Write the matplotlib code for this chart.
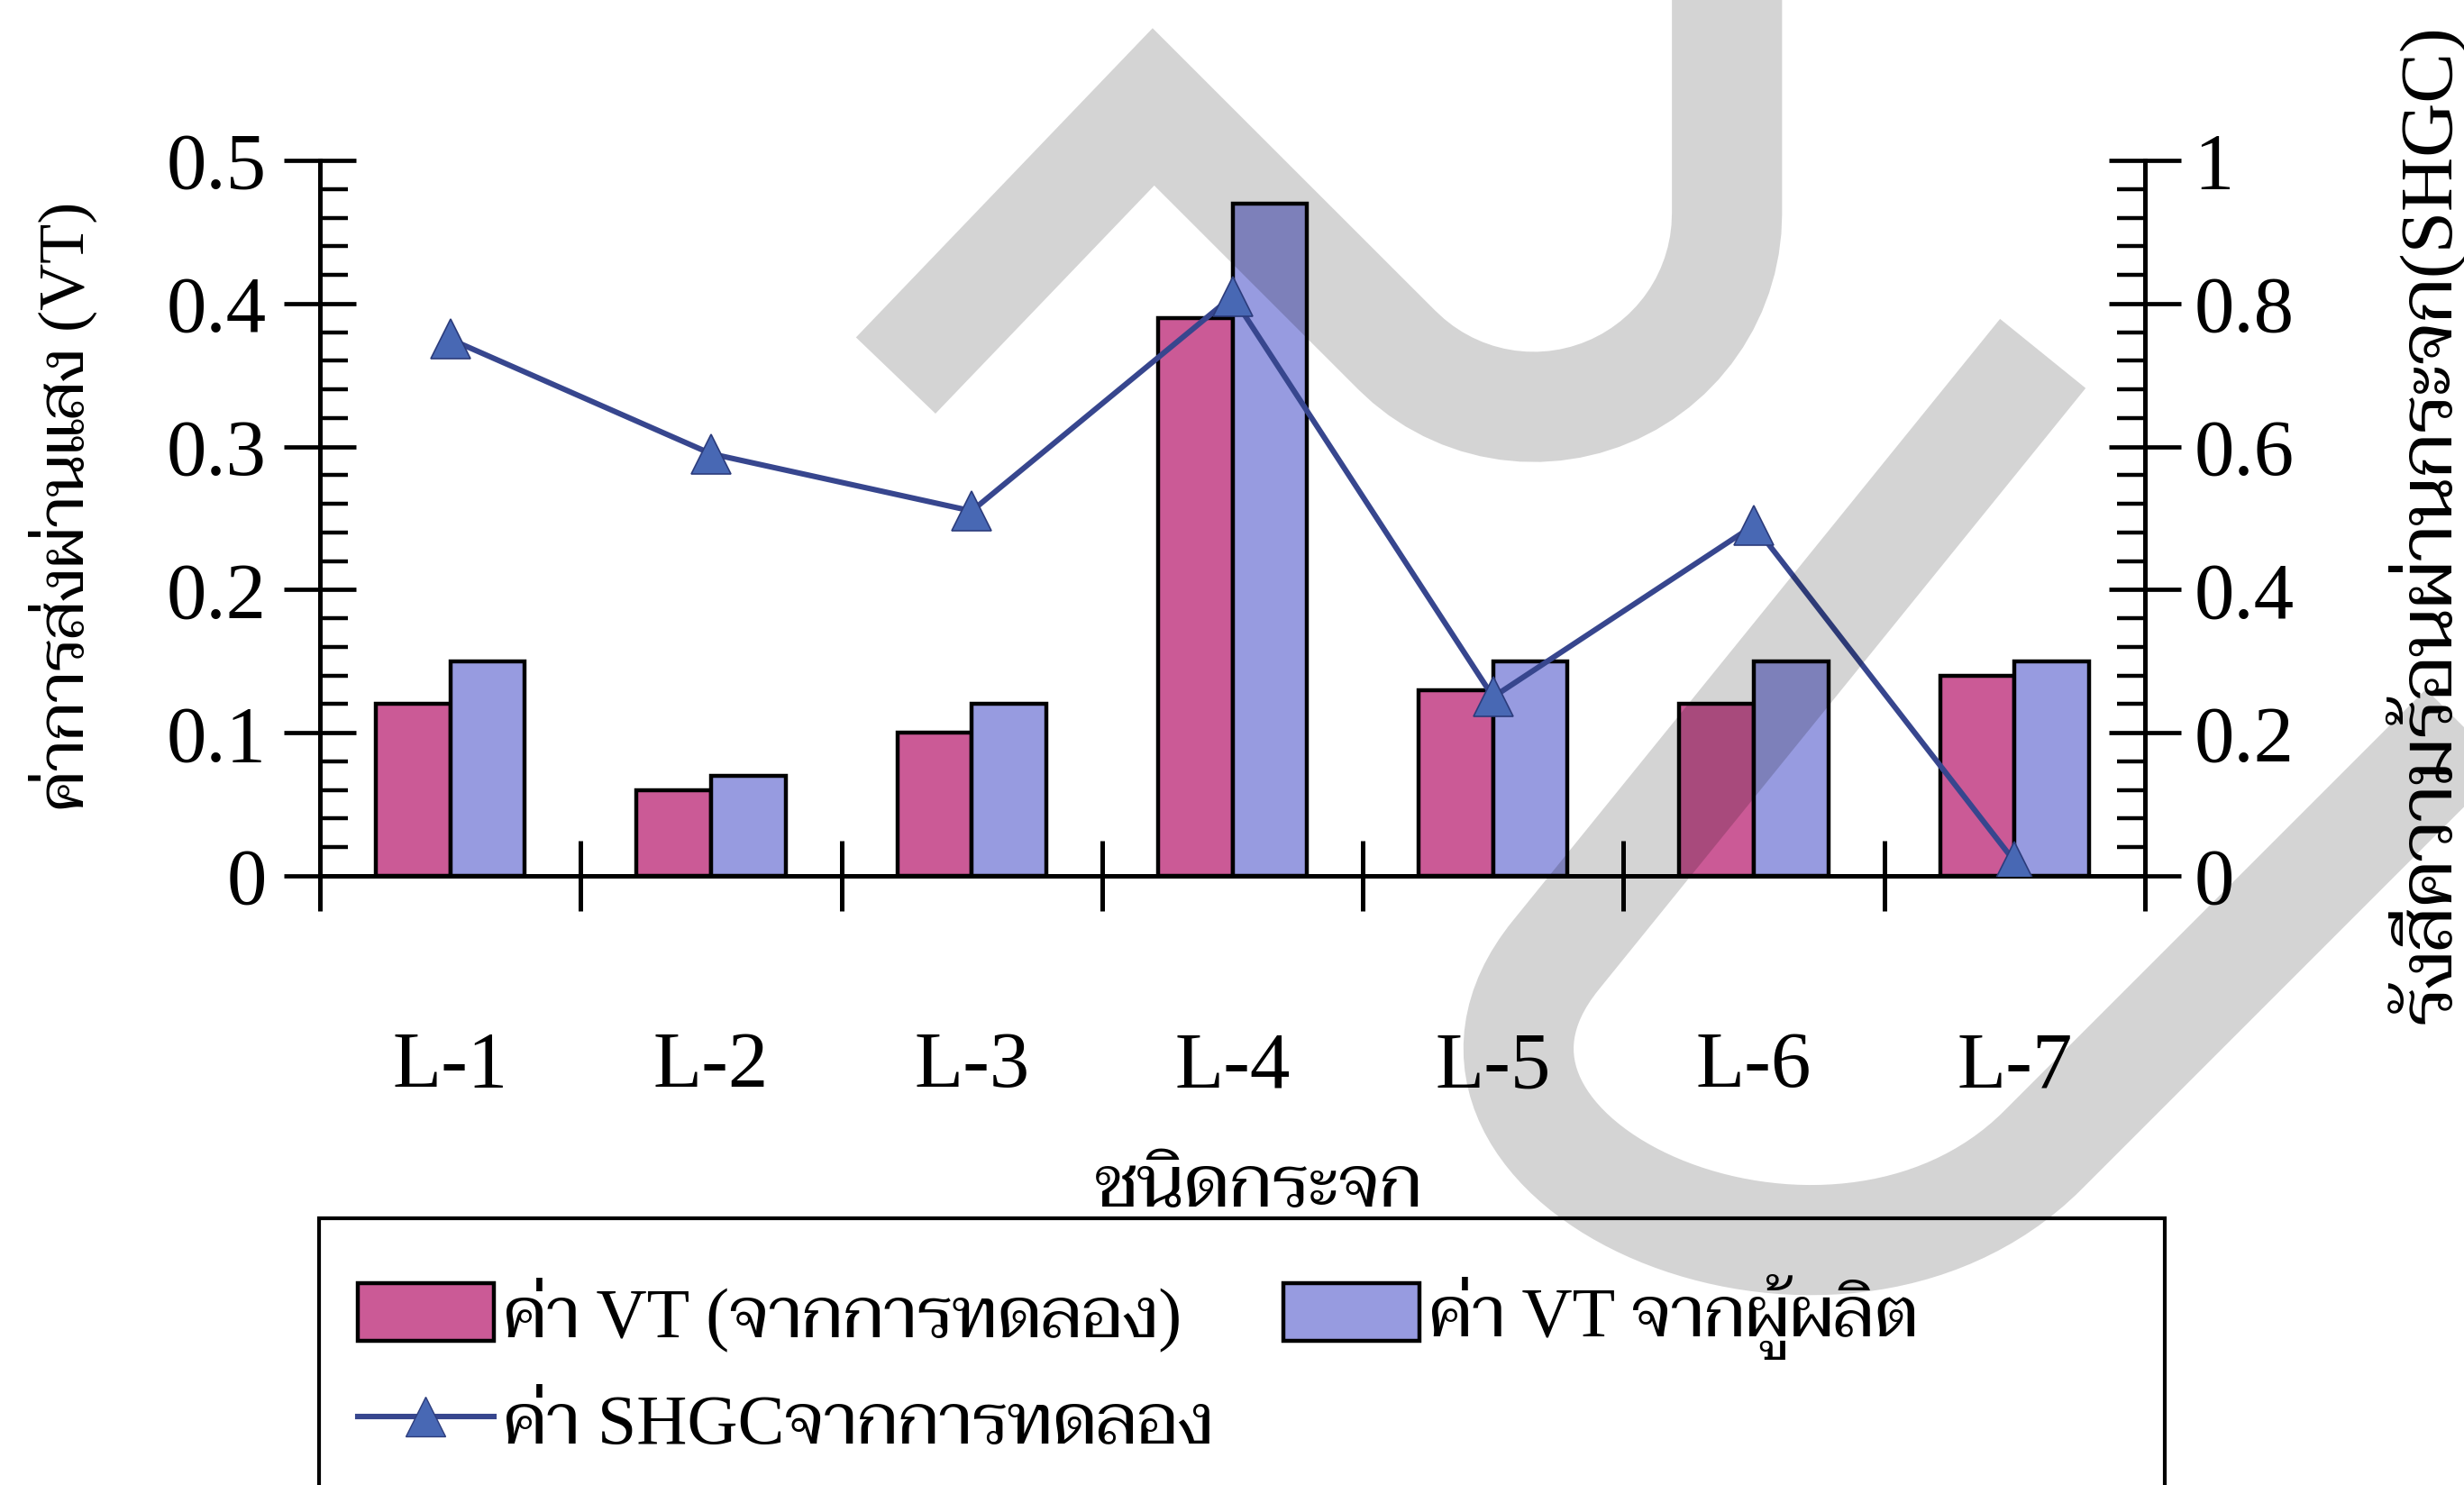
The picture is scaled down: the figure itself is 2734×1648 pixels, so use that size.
import numpy as np
import matplotlib
matplotlib.use("Agg")
import matplotlib.pyplot as plt
from matplotlib import font_manager
from matplotlib.patches import Patch, Rectangle, PathPatch
from matplotlib.lines import Line2D
from matplotlib.path import Path
from matplotlib.ticker import FixedLocator, FixedFormatter, MultipleLocator, NullFormatter

# ---- data -------------------------------------------------------------
categories = ["L-1", "L-2", "L-3", "L-4", "L-5", "L-6", "L-7"]
vt_experiment = [0.12, 0.06, 0.10, 0.39, 0.13, 0.12, 0.14]
vt_manufacturer = [0.15, 0.07, 0.12, 0.47, 0.15, 0.15, 0.15]
shgc_experiment = [0.75, 0.59, 0.51, 0.81, 0.25, 0.49, 0.02]

vt_ticks = [0, 0.1, 0.2, 0.3, 0.4, 0.5]
vt_tick_labels = ["0", "0.1", "0.2", "0.3", "0.4", "0.5"]
shgc_ticks = [0, 0.2, 0.4, 0.6, 0.8, 1.0]
shgc_tick_labels = ["0", "0.2", "0.4", "0.6", "0.8", "1"]

label_vt_exp = "ค่า VT (จากการทดลอง)"
label_vt_mfr = "ค่า VT จากผู้ผลิต"
label_shgc = "ค่า SHGCจากการทดลอง"
ylabel_left = "ค่าการส่งผ่านแสง (VT)"
ylabel_right = "รังสีความร้อนผ่านกระจก(SHGC)"
xlabel = "ชนิดกระจก"

# Latin glyphs from a Times-like serif, Thai glyphs from a looped serif Thai face
available = {f.name for f in font_manager.fontManager.ttflist}
thai_choices = ["Taviraj", "Trirong", "Pridi", "Maitree", "FreeSerif"]
thai_font = next((f for f in thai_choices if f in available), "FreeSerif")
FAMILY = ["Liberation Serif", thai_font, "FreeSerif", "DejaVu Sans"]
plt.rcParams["font.family"] = FAMILY

W, H = 2734, 1648
fig = plt.figure(figsize=(W / 100, H / 100), dpi=100)

# plot area in pixels: left/right axes and zero/top lines
x0, x1, ytop, ybot = 355, 2380, 178, 972
ax = fig.add_axes([x0 / W, 1 - ybot / H, (x1 - x0) / W, (ybot - ytop) / H])
ax2 = ax.twinx()

pink = "#CB5A96"
lavender = "#979BE0"
navy = "#37468E"
tri_face = "#4868B4"

n = len(categories)
x = np.arange(n)
bw = 1 / 3.5
ax.bar(x - bw / 2, vt_experiment, bw, color=pink, edgecolor="black", linewidth=3.2, zorder=2)
ax.bar(x + bw / 2, vt_manufacturer, bw, color=lavender, edgecolor="black", linewidth=3.2, zorder=2)
ax2.plot(x, shgc_experiment, color=navy, lw=4.4, marker="^", markersize=32,
         markerfacecolor=tri_face, markeredgecolor="#2C3C7C", markeredgewidth=1.2, zorder=3)

ax.set_xlim(-0.5, n - 0.5)
ax.set_ylim(0, 0.5)
ax2.set_ylim(0, 1)

for a in (ax, ax2):
    a.spines["top"].set_visible(False)
    for s in ("left", "right", "bottom"):
        a.spines[s].set_linewidth(3.6)
        a.spines[s].set_color("black")
ax.spines["right"].set_visible(False)
ax2.spines["left"].set_visible(False)
ax2.spines["bottom"].set_visible(False)

tick_size = 64
# category axis: boundary ticks crossing the line, labels at the centres
ax.xaxis.set_major_locator(FixedLocator(np.arange(-0.5, n, 1)))
ax.xaxis.set_major_formatter(NullFormatter())
ax.xaxis.set_minor_locator(FixedLocator(x))
ax.xaxis.set_minor_formatter(FixedFormatter(categories))
ax.tick_params(axis="x", which="major", direction="inout", length=56, width=3.6)
ax.tick_params(axis="x", which="minor", length=0, pad=124, labelsize=tick_size)

# left value axis
ax.yaxis.set_major_locator(FixedLocator(vt_ticks))
ax.yaxis.set_major_formatter(FixedFormatter(vt_tick_labels))
ax.yaxis.set_minor_locator(MultipleLocator(0.02))
ax.tick_params(axis="y", which="major", direction="inout", length=57, width=3.4,
               pad=14, labelsize=tick_size)
ax.tick_params(axis="y", which="minor", direction="in", length=22, width=3.2)

# right value axis
ax2.yaxis.set_major_locator(FixedLocator(shgc_ticks))
ax2.yaxis.set_major_formatter(FixedFormatter(shgc_tick_labels))
ax2.yaxis.set_minor_locator(MultipleLocator(0.04))
ax2.tick_params(axis="y", which="major", direction="inout", length=58, width=3.4,
                pad=10, labelsize=tick_size)
ax2.tick_params(axis="y", which="minor", direction="in", length=22, width=3.2)

for lab in ax.get_xticklabels(minor=True) + ax.get_yticklabels() + ax2.get_yticklabels():
    lab.set_family(FAMILY)

# axis titles
fig.text(70 / W, 1 - 562 / H, ylabel_left, rotation=90, ha="center", va="center",
         fontsize=52, family=FAMILY)
fig.text(2690 / W, 1 - 582 / H, ylabel_right, rotation=90, ha="center", va="center",
         fontsize=60, family=FAMILY)
fig.text(1397 / W, 1 - 1320 / H, xlabel, ha="center", va="center", fontsize=58, family=FAMILY)

# legend with its frame running off the lower edge
handles = [
    Patch(facecolor=pink, edgecolor="black", linewidth=3.2),
    Line2D([], [], color=navy, lw=4.4, marker="^", markersize=32,
           markerfacecolor=tri_face, markeredgecolor="#2C3C7C"),
    Patch(facecolor=lavender, edgecolor="black", linewidth=3.2),
]
labels = [label_vt_exp, label_shgc, label_vt_mfr]
leg_fs = 56
fig.legend(handles, labels, ncol=2, loc="upper left",
           bbox_to_anchor=(397 / W, 1 - 1414 / H), frameon=False,
           prop={"family": FAMILY, "size": leg_fs},
           handlelength=1.94, handleheight=0.9, handletextpad=0.13,
           columnspacing=1.0, borderpad=0, borderaxespad=0, labelspacing=0.55)
fig.add_artist(Rectangle((354 / W, 1 - 1700 / H), (2402 - 354) / W, (1700 - 1352) / H,
                         transform=fig.transFigure, fill=False, edgecolor="black",
                         linewidth=3.0, zorder=5))

# translucent grey "TU" emblem laid over the chart
S = W / 1568


def emblem_path(verts, codes):
    pts = [(vx * S / W, 1 - vy * S / H) for vx, vy in verts]
    return Path(pts, codes)


arc_theta = np.radians(np.linspace(135, 0, 30))
arc_pts = [(976 + 123 * np.cos(t), 136 + 123 * np.sin(t)) for t in arc_theta]
verts_a = [(570, 239), (734, 68)] + arc_pts + [(1099, -60)]
codes_a = [Path.MOVETO] + [Path.LINETO] * (len(verts_a) - 1)
verts_b = [(1300, 225), (990, 608), (883, 740), (1166, 866), (1300, 732), (1700, 332)]
codes_b = [Path.MOVETO, Path.LINETO, Path.CURVE4, Path.CURVE4, Path.CURVE4, Path.LINETO]
for v, c in ((verts_a, codes_a), (verts_b, codes_b)):
    patch = PathPatch(emblem_path(v, c), fill=False, edgecolor=(0, 0, 0, 0.17),
                      linewidth=88, capstyle="butt", joinstyle="miter",
                      transform=fig.transFigure, zorder=10)
    fig.add_artist(patch)

fig.savefig("out.png", dpi=100)
